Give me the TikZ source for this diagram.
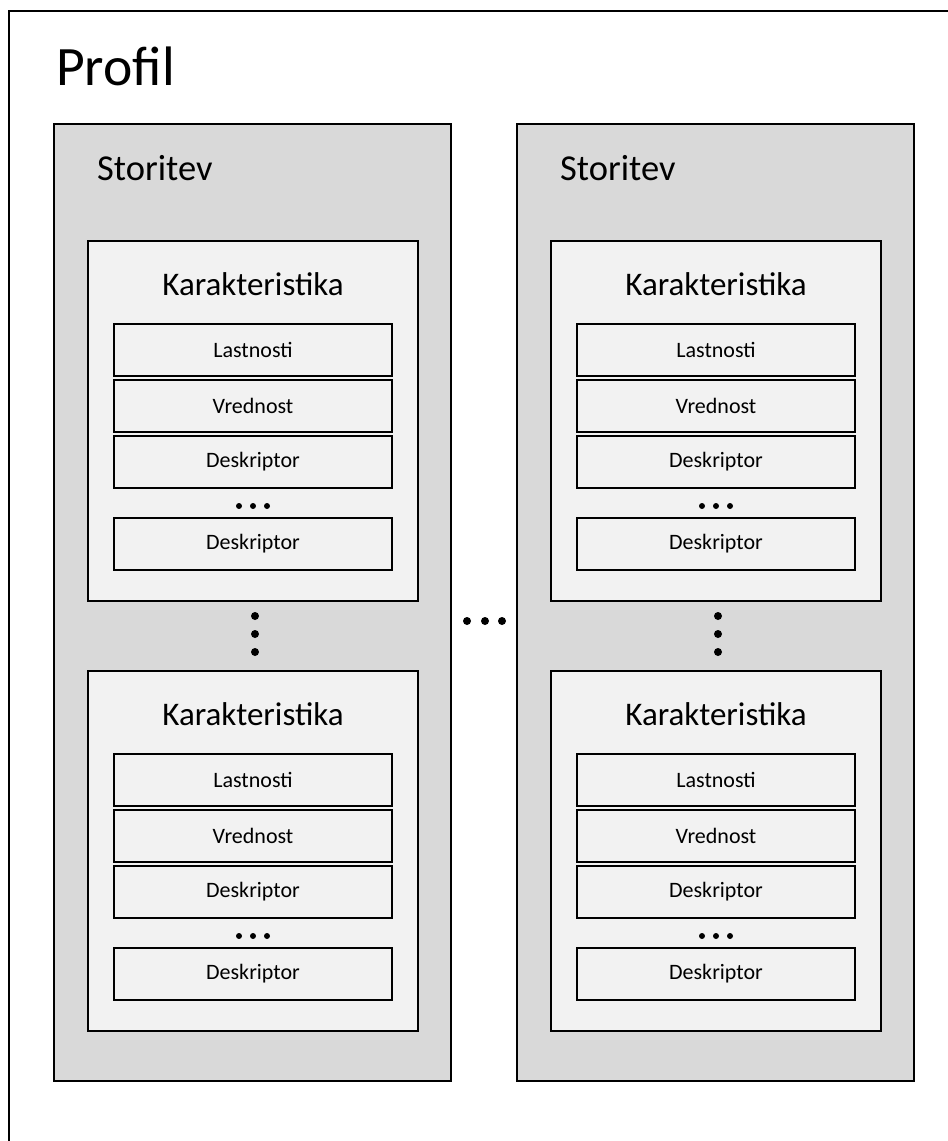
\documentclass[tikz,border=0pt]{standalone}
\usepackage{fontspec}
\setmainfont{Carlito}
\usetikzlibrary{positioning}
\definecolor{storgray}{HTML}{D9D9D9}
\definecolor{kargray}{HTML}{F2F2F2}
\tikzset{%
  storitev/.style={draw,rectangle,line width=1.8pt,fill=storgray,inner sep=0pt,outer sep=0pt,
    minimum width=397pt,minimum height=957pt,anchor=north west},
  karakt/.style={draw,rectangle,line width=1.8pt,fill=kargray,inner sep=0pt,outer sep=0pt,
    minimum width=330pt,minimum height=360pt,anchor=north west},
  polje/.style={draw,rectangle,line width=1.7pt,fill=kargray,inner sep=0pt,outer sep=0pt,
    minimum width=278pt,minimum height=52pt,font=\fontsize{22}{26}\selectfont},
  naslov/.style={inner sep=0pt,font=\fontsize{36.5}{42}\selectfont},
  pika/.style={circle,fill=black,inner sep=0pt,minimum size=8pt},
  pikica/.style={circle,fill=black,inner sep=0pt,minimum size=6pt}
}
\begin{document}
\begin{tikzpicture}[x=1pt,y=-1pt]
	\useasboundingbox (0,0) rectangle (948,1141);
	% profil frame, cut by the page
	\draw[line width=1.8pt] (9,1141) |- (948,11);
	\node[anchor=base west,inner sep=0pt,font=\fontsize{55.6}{64}\selectfont] (profil) at (56,85) {Profil};
	\foreach \c/\xo in {1/0,2/463}{
		\node[storitev] (sto\c) at (54+\xo,124) {};
		\node[naslov,anchor=base west] (stolab\c) at (97+\xo,180) {Storitev};
		\foreach \r/\yo in {1/241,2/671}{
			\node[karakt] (kar\c\r) at (88+\xo,\yo) {};
			\node[naslov,anchor=base,font=\fontsize{33}{38}\selectfont] (karlab\c\r) at ([yshift=-54pt]kar\c\r.north) {Karakteristika};
			\node[polje,below=83pt of kar\c\r.north,anchor=north] (last\c\r) {Lastnosti};
			\node[polje,below=4pt of last\c\r] (vred\c\r) {Vrednost};
			\node[polje,below=4pt of vred\c\r] (desa\c\r) {Deskriptor};
			\node[polje,below=30pt of desa\c\r] (desb\c\r) {Deskriptor};
			\foreach \d in {-14,0,14}
				\node[pikica] at ([xshift=\d pt,yshift=-18pt]desa\c\r.south) {};
		}
		% vertical dots between the two boxes
		\foreach \y in {616,634,652}
			\node[pika] at (255+\xo,\y) {};
	}
	\foreach \x in {467,485,502}
		\node[pika] at (\x,621) {};
\end{tikzpicture}
\end{document}
